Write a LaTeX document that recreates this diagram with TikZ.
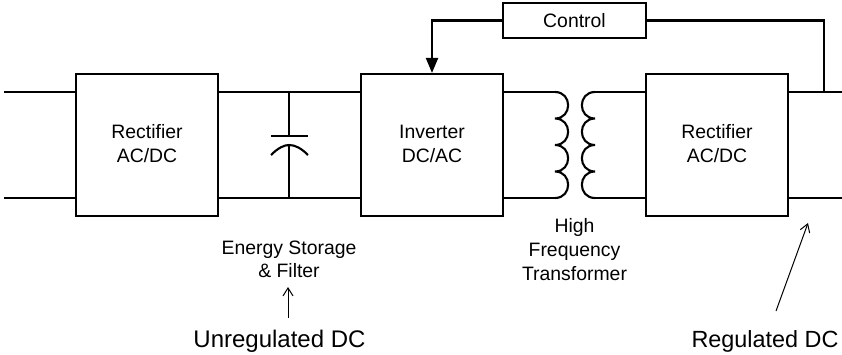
\documentclass[tikz,border=0pt]{standalone}
\usepackage{fontspec}
\setmainfont{Liberation Sans}
\usetikzlibrary{arrows.meta,calc}
\tikzset{
  blockbox/.style={draw=black,line width=2.1pt,minimum width=142pt,minimum height=142pt,inner sep=0pt,fill=white},
  blocktext/.style={inner sep=0pt,align=center,font=\fontsize{19.4}{24}\selectfont},
  ctrlbox/.style={draw=black,line width=2.1pt,minimum width=143pt,minimum height=35pt,inner sep=0pt,font=\fontsize{19.4}{24}\selectfont,fill=white},
  wire/.style={line width=2.1pt,draw=black},
  note/.style={inner sep=0pt,align=center,font=\fontsize{19.4}{23.5}\selectfont},
  biglabel/.style={inner sep=0pt,font=\fontsize{23.4}{28}\selectfont},
  pointer/.style={line width=1pt,draw=black,-{Straight Barb[length=8pt,width=10pt,line width=1pt]}},
  fedback/.style={wire,-{Triangle[length=15pt,width=12pt]}}
}
\begin{document}
\begin{tikzpicture}[x=1pt,y=-1pt]
\useasboundingbox (0,0) rectangle (842,354);
% free ends
\coordinate (inT) at (4,92);
\coordinate (inB) at (4,198);
\coordinate (outT) at (842,92);
\coordinate (outB) at (842,198);
\coordinate (tap) at (824,92);
\coordinate (capT) at (289,92);
\coordinate (capB) at (289,198);
\coordinate (capU) at (289,136);
\coordinate (capL) at (289,145);
\coordinate (priT) at (555,92);
\coordinate (priB) at (555,198);
\coordinate (secT) at (595,92);
\coordinate (secB) at (595,198);
% blocks
\node[blockbox] (rect1) at (147,145) {};
\node[blockbox] (inv) at (432,145) {};
\node[blockbox] (rect2) at (717,145) {};
\node[blocktext,yshift=1pt] (rect1t) at (rect1) {Rectifier\\AC/DC};
\node[blocktext,yshift=1pt] (invt) at (inv) {Inverter\\DC/AC};
\node[blocktext,yshift=1pt] (rect2t) at (rect2) {Rectifier\\AC/DC};
\node[ctrlbox] (ctrl) at (574.5,20.5) {Control};
% wires
\draw[wire] (inT) -- (inT -| rect1.west);
\draw[wire] (inB) -- (inB -| rect1.west);
\draw[wire] (inT -| rect1.east) -- (inT -| inv.west);
\draw[wire] (inB -| rect1.east) -- (inB -| inv.west);
\draw[wire] (priT -| inv.east) -- (priT);
\draw[wire] (priB -| inv.east) -- (priB);
\draw[wire] (secT) -- (secT -| rect2.west);
\draw[wire] (secB) -- (secB -| rect2.west);
\draw[wire] (outT -| rect2.east) -- (outT);
\draw[wire] (outB -| rect2.east) -- (outB);
% capacitor
\draw[wire] (capT) -- (capU);
\draw[wire] (capL) -- (capB);
\draw[wire] (271,136) -- (308,136);
\draw[wire] (271,155) .. controls (278,148) and (284,145) .. (capL) .. controls (295,145) and (301,148) .. (308,155);
% transformer
\draw[wire] (priT) .. controls (572.5,92) and (572.5,118.5) .. (555,118.5)
  .. controls (572.5,118.5) and (572.5,145) .. (555,145)
  .. controls (572.5,145) and (572.5,171.5) .. (555,171.5)
  .. controls (572.5,171.5) and (572.5,198) .. (priB);
\draw[wire] (secT) .. controls (577.5,92) and (577.5,118.5) .. (595,118.5)
  .. controls (577.5,118.5) and (577.5,145) .. (595,145)
  .. controls (577.5,145) and (577.5,171.5) .. (595,171.5)
  .. controls (577.5,171.5) and (577.5,198) .. (secB);
% feedback
\draw[wire] (ctrl.east) -| (tap);
\draw[fedback] (ctrl.west) -| (inv.north);
% labels
\node[note] (esf) at (289,259.5) {Energy Storage\\\& Filter};
\node[note,font=\fontsize{19.4}{24}\selectfont] (hft) at (574.5,250) {High\\Frequency\\Transformer};
\node[biglabel,anchor=base,font=\fontsize{24}{28}\selectfont] (ureg) at (279.5,347) {Unregulated DC};
\node[biglabel,anchor=base] (reg) at (765,347) {Regulated DC};
% pointers
\coordinate (p1s) at (288,318);
\coordinate (p1e) at (288,287);
\coordinate (p2s) at (776,311);
\coordinate (p2e) at (808,223);
\draw[pointer] (p1s) -- (p1e);
\draw[pointer] (p2s) -- (p2e);
\end{tikzpicture}
\end{document}
